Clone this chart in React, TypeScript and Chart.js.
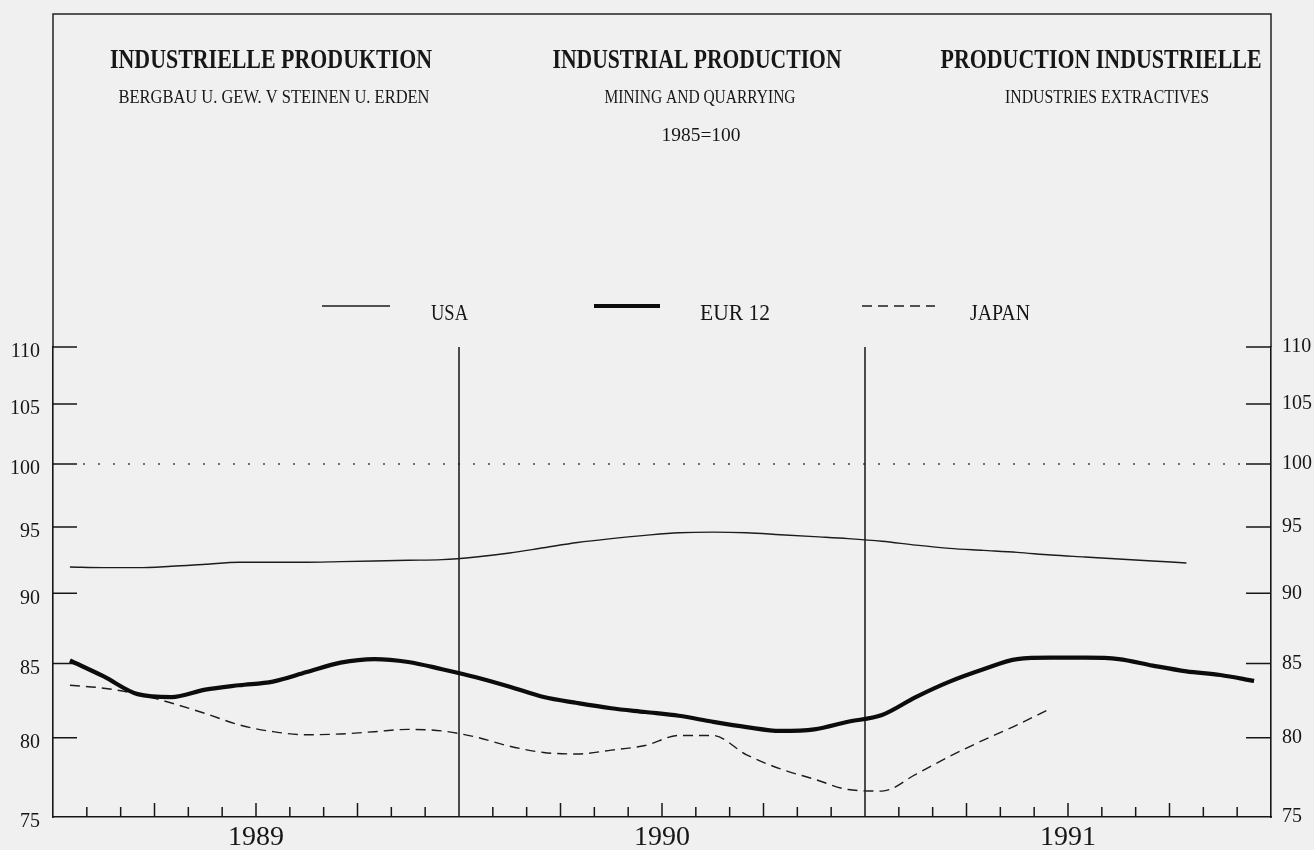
import React, { useEffect, useRef } from 'react';
import { Chart, registerables } from 'chart.js';

Chart.register(...registerables);

// ---------- DATA ----------
const years = ['1989', '1990', '1991'];
const yTickValues = [75, 80, 85, 90, 95, 100, 105, 110];
const referenceLevel = 100;

// monthly index values, Jan 1989 .. Dec 1991 (1985 = 100)
const usa = [
  91.95, 91.9, 91.9, 92.0, 92.15, 92.3, 92.3, 92.3, 92.35, 92.4, 92.45, 92.5,
  92.7, 93.0, 93.4, 93.8, 94.1, 94.35, 94.55, 94.6, 94.55, 94.4, 94.25, 94.1,
  93.9, 93.6, 93.35, 93.2, 93.05, 92.85, 92.7, 92.55, 92.4, 92.25, null, null,
];
const eur12 = [
  85.2, 84.1, 82.9, 82.7, 83.2, 83.5, 83.75, 84.4, 85.05, 85.3, 85.1, 84.6,
  84.05, 83.4, 82.7, 82.3, 81.95, 81.7, 81.45, 81.05, 80.7, 80.45, 80.55, 81.05,
  81.5, 82.7, 83.75, 84.6, 85.3, 85.4, 85.4, 85.3, 84.85, 84.45, 84.2, 83.8,
];
const japan = [
  83.5, 83.3, 82.9, 82.3, 81.6, 80.85, 80.4, 80.2, 80.25, 80.4, 80.55, 80.45,
  80.05, 79.45, 79.05, 78.95, 79.2, 79.5, 80.15, 80.15, 78.9, 78.0, 77.35, 76.7,
  76.6, 77.65, 78.8, 79.85, 80.85, 81.95, null, null, null, null, null, null,
];
const seriesNames = ['USA', 'EUR 12', 'JAPAN'];

const titleTexts = ['INDUSTRIELLE PRODUKTION', 'INDUSTRIAL PRODUCTION', 'PRODUCTION INDUSTRIELLE'];
const subTitleTexts = ['BERGBAU U. GEW. V STEINEN U. ERDEN', 'MINING AND QUARRYING', 'INDUSTRIES EXTRACTIVES'];
const baseText = '1985=100';

// ---------- helpers ----------
const toPoints = (arr: (number | null)[]) =>
  arr
    .map((v, i) => (v == null ? null : { x: i + 0.5, y: v }))
    .filter((p) => p !== null) as { x: number; y: number }[];

const INK = '#161616';
const SERIF = "'Liberation Serif', 'DejaVu Serif', serif";

function fitText(
  ctx: CanvasRenderingContext2D,
  text: string,
  x: number,
  y: number,
  font: string,
  width: number,
  align: CanvasTextAlign
) {
  ctx.save();
  ctx.font = font;
  const w = ctx.measureText(text).width;
  const sx = width / w;
  ctx.translate(x, y);
  ctx.scale(sx, 1);
  ctx.textAlign = align;
  ctx.textBaseline = 'alphabetic';
  ctx.fillStyle = INK;
  ctx.fillText(text, 0, 0);
  ctx.restore();
}

const decorPlugin = {
  id: 'decor',
  beforeDraw(chart: any) {
    const { ctx, chartArea } = chart;
    ctx.save();
    ctx.fillStyle = '#f0f0f0';
    ctx.fillRect(0, 0, chart.width, chart.height);

    // outer frame above the plot area
    ctx.strokeStyle = '#222';
    ctx.lineWidth = 1.5;
    ctx.beginPath();
    ctx.moveTo(chartArea.left, chartArea.top);
    ctx.lineTo(chartArea.left, 14);
    ctx.lineTo(chartArea.right, 14);
    ctx.lineTo(chartArea.right, chartArea.top);
    ctx.stroke();

    // titles
    const titleCenters = [271, 697, 1101];
    const titleWidths = [322, 289, 321];
    titleTexts.forEach((t, i) =>
      fitText(ctx, t, titleCenters[i], 68, `bold 28px ${SERIF}`, titleWidths[i], 'center')
    );
    const subCenters = [274, 700, 1107];
    const subWidths = [311, 191, 204];
    subTitleTexts.forEach((t, i) =>
      fitText(ctx, t, subCenters[i], 103, `19px ${SERIF}`, subWidths[i], 'center')
    );
    fitText(ctx, baseText, 701, 141, `19px ${SERIF}`, 79, 'center');

    // legend
    const lineX = [[322, 390], [594, 660], [862, 935]];
    const textX = [431, 700, 970];
    const textW = [37, 70, 60];
    chart.data.datasets.forEach((ds: any, i: number) => {
      ctx.save();
      ctx.strokeStyle = ds.borderColor;
      ctx.lineWidth = ds.borderWidth;
      ctx.setLineDash(ds.borderDash || []);
      ctx.lineCap = 'butt';
      ctx.beginPath();
      ctx.moveTo(lineX[i][0], 306);
      ctx.lineTo(lineX[i][1], 306);
      ctx.stroke();
      ctx.restore();
      fitText(ctx, ds.label, textX[i], 320, `24px ${SERIF}`, textW[i], 'left');
    });
    ctx.restore();
  },
  beforeDatasetsDraw(chart: any) {
    const { ctx, chartArea } = chart;
    const xs = chart.scales.x;
    const ys = chart.scales.y;
    ctx.save();

    // dotted reference line at 100
    const yRef = ys.getPixelForValue(referenceLevel);
    ctx.strokeStyle = '#444';
    ctx.lineWidth = 1.6;
    ctx.setLineDash([2, 13]);
    ctx.beginPath();
    ctx.moveTo(chartArea.left + 30, yRef);
    ctx.lineTo(chartArea.right - 25, yRef);
    ctx.stroke();
    ctx.setLineDash([]);

    // year separators
    ctx.strokeStyle = INK;
    ctx.lineWidth = 1.5;
    [12, 24].forEach((m) => {
      const x = xs.getPixelForValue(m);
      ctx.beginPath();
      ctx.moveTo(x, ys.getPixelForValue(yTickValues[yTickValues.length - 1]));
      ctx.lineTo(x, chartArea.bottom);
      ctx.stroke();
    });

    // inward month ticks
    xs.ticks.forEach((t: any) => {
      const v = t.value;
      if (v <= 0 || v >= 36 || v % 12 === 0) return;
      const len = v % 3 === 0 ? 14 : 10;
      const x = xs.getPixelForValue(v);
      ctx.beginPath();
      ctx.moveTo(x, chartArea.bottom);
      ctx.lineTo(x, chartArea.bottom - len);
      ctx.stroke();
    });

    // inward value ticks (left and right)
    yTickValues.forEach((v) => {
      if (v === yTickValues[0]) return;
      const y = ys.getPixelForValue(v);
      ctx.beginPath();
      ctx.moveTo(chartArea.left, y);
      ctx.lineTo(chartArea.left + 24, y);
      ctx.moveTo(chartArea.right - 25, y);
      ctx.lineTo(chartArea.right, y);
      ctx.stroke();
    });
    ctx.restore();
  },
};

export default function App() {
  const ref = useRef<HTMLCanvasElement | null>(null);

  useEffect(() => {
    if (!ref.current) return;
    const yCommon = (position: 'left' | 'right', width: number, offset: number) => ({
      type: 'logarithmic' as const,
      position,
      min: yTickValues[0],
      max: yTickValues[yTickValues.length - 1],
      afterBuildTicks: (scale: any) => {
        scale.ticks = yTickValues.map((v) => ({ value: v }));
      },
      afterFit: (scale: any) => {
        scale.width = width;
      },
      grid: { display: false, drawTicks: false },
      border: { display: true, color: INK, width: 1.6 },
      ticks: {
        callback: (v: any) => String(v),
        font: { family: SERIF, size: 20 },
        color: INK,
        padding: position === 'left' ? 13 : 11,
        labelOffset: offset,
        autoSkip: false,
      },
    });

    const chart = new Chart(ref.current, {
      type: 'line',
      data: {
        datasets: [
          {
            label: seriesNames[0],
            data: toPoints(usa),
            borderColor: '#1c1c1c',
            borderWidth: 1.4,
            pointRadius: 0,
            cubicInterpolationMode: 'monotone',
            fill: false,
          },
          {
            label: seriesNames[1],
            data: toPoints(eur12),
            borderColor: '#0c0c0c',
            borderWidth: 4.2,
            pointRadius: 0,
            cubicInterpolationMode: 'monotone',
            fill: false,
          },
          {
            label: seriesNames[2],
            data: toPoints(japan),
            borderColor: '#1c1c1c',
            borderWidth: 1.4,
            borderDash: [10, 6],
            pointRadius: 0,
            cubicInterpolationMode: 'monotone',
            fill: false,
          },
        ],
      } as any,
      options: {
        animation: false,
        responsive: false,
        devicePixelRatio: 1,
        events: [],
        layout: { padding: { top: 347, left: 0, right: 0, bottom: 0 } },
        plugins: { legend: { display: false }, tooltip: { enabled: false } },
        scales: {
          x: {
            type: 'linear',
            position: 'bottom',
            min: 0,
            max: years.length * 12,
            afterBuildTicks: (scale: any) => {
              scale.ticks = Array.from({ length: years.length * 12 + 1 }, (_, i) => ({ value: i }));
            },
            afterFit: (scale: any) => {
              scale.height = 33;
            },
            grid: { display: false, drawTicks: false },
            border: { display: true, color: INK, width: 1.6 },
            ticks: {
              autoSkip: false,
              maxRotation: 0,
              padding: 4,
              font: { family: SERIF, size: 28 },
              color: INK,
              callback: (v: any) => (v % 12 === 6 ? years[Math.floor(v / 12)] : ''),
            },
          },
          y: yCommon('left', 53, 5),
          y2: yCommon('right', 43, 0),
        } as any,
      },
      plugins: [decorPlugin],
    });
    return () => chart.destroy();
  }, []);

  return (
    <canvas
      ref={ref}
      width={1314}
      height={850}
      style={{ position: 'fixed', left: 0, top: 0, width: 1314, height: 850 }}
    />
  );
}
